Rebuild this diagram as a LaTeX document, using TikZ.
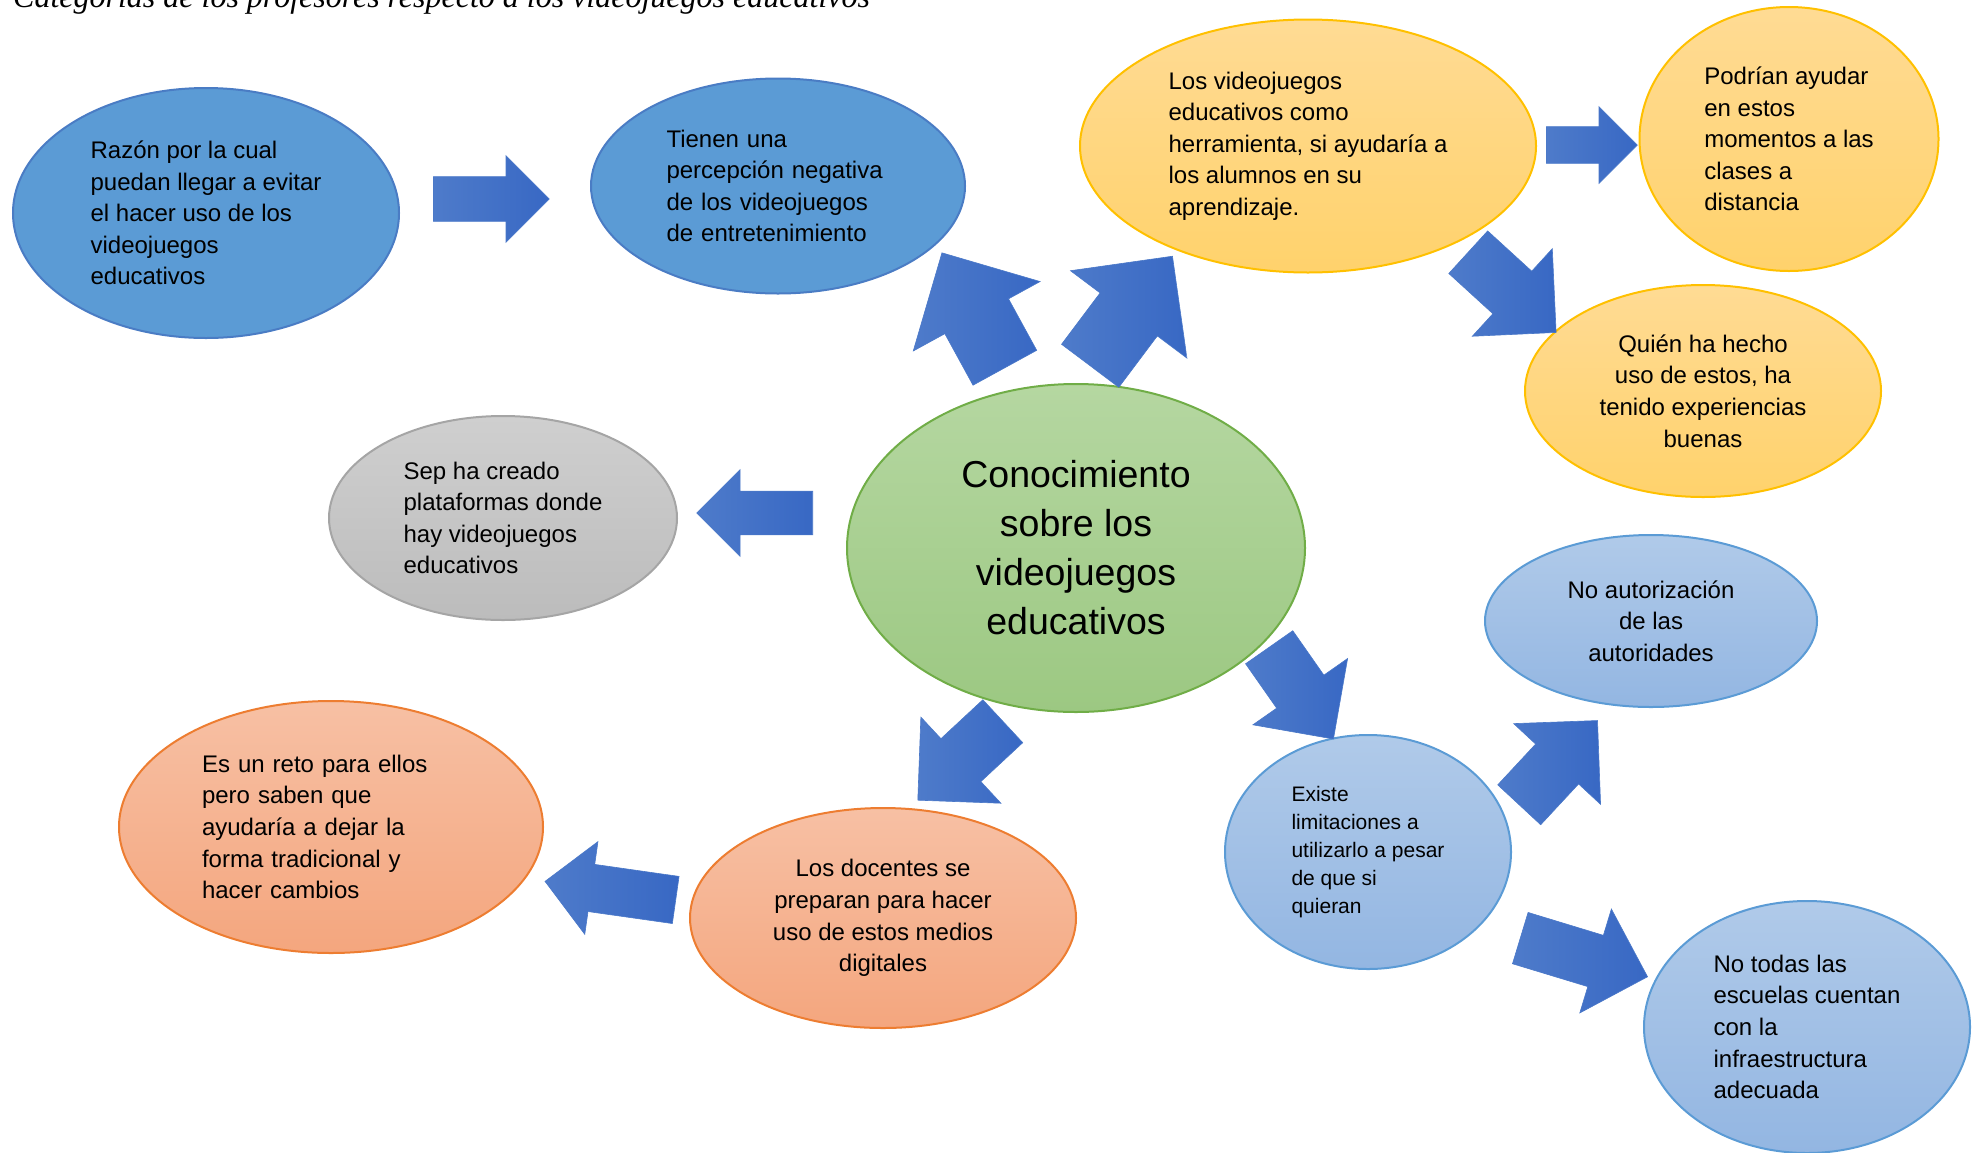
\documentclass[tikz,border=0pt]{standalone}
\usepackage{fontspec}
\setmainfont{Liberation Sans}
\newfontfamily\titulofont{Liberation Serif}
\usetikzlibrary{shapes.geometric,shapes.arrows}

\definecolor{azul}{HTML}{5B9BD5}
\definecolor{azulborde}{HTML}{4A7CC4}
\definecolor{amarillo1}{HTML}{FFDB94}
\definecolor{amarillo2}{HTML}{FFD26C}
\definecolor{amarilloborde}{HTML}{FFC000}
\definecolor{verde1}{HTML}{B5D7A1}
\definecolor{verde2}{HTML}{9CC882}
\definecolor{verdeborde}{HTML}{70AD47}
\definecolor{gris1}{HTML}{CFCFCF}
\definecolor{gris2}{HTML}{BCBCBC}
\definecolor{grisborde}{HTML}{A5A5A5}
\definecolor{celeste1}{HTML}{B0CAE9}
\definecolor{celeste2}{HTML}{93B6E2}
\definecolor{celesteborde}{HTML}{5B9BD5}
\definecolor{naranja1}{HTML}{F7C0A4}
\definecolor{naranja2}{HTML}{F4A67E}
\definecolor{naranjaborde}{HTML}{ED7D31}
\definecolor{flecha1}{HTML}{4E7BCA}
\definecolor{flecha2}{HTML}{3868C4}
\definecolor{flechaborde}{HTML}{4A78C8}

\begin{document}
\begin{tikzpicture}[x=1pt, y=-1pt,
        burbuja/.style={ellipse, draw, line width=2pt, inner sep=0pt, align=left,
            font=\fontsize{24}{31.6}\selectfont},
        tam/.style 2 args={minimum width=#1pt, minimum height=#2pt},
        azulfuerte/.style={burbuja, draw=azulborde, fill=azul},
        amarilla/.style={burbuja, draw=amarilloborde, top color=amarillo1, bottom color=amarillo2},
        verde/.style={burbuja, draw=verdeborde, top color=verde1, bottom color=verde2},
        gris/.style={burbuja, draw=grisborde, top color=gris1, bottom color=gris2},
        celeste/.style={burbuja, draw=celesteborde, top color=celeste1, bottom color=celeste2},
        naranja/.style={burbuja, draw=naranjaborde, top color=naranja1, bottom color=naranja2},
        flecha/.style n args={3}{single arrow, anchor=tail, draw=flechaborde, line width=0.6pt,
            left color=flecha1, right color=flecha2, inner xsep=0pt, inner ysep={0.5*#3pt},
            single arrow tip angle=90, single arrow head extend={0.5*(#2-#3)*1pt},
            minimum height=#1pt, minimum width=#2pt}]

    \useasboundingbox (0,0) rectangle (1980,1152);

    \node [anchor=base west, inner sep=0pt, font=\titulofont\itshape\fontsize{32}{38}\selectfont] (titulo) at (13,7)
        {Categorías de los profesores respecto a los videojuegos educativos};

    % burbujas
    \node [azulfuerte, tam={386}{250}] (razon) at (206,213)
        {Razón por la cual\\puedan llegar a evitar\\el hacer uso de los\\videojuegos\\educativos};
    \node [azulfuerte, tam={374}{215}, text width=223pt] (percepcion) at (778,186)
        {Tienen una\\percepción negativa\\de los videojuegos\\de entretenimiento};
    \node [amarilla, tam={456}{253}] (herramienta) at (1308,146)
        {Los videojuegos\\educativos como\\herramienta, si ayudaría a\\los alumnos en su\\aprendizaje.};
    \node [amarilla, tam={299}{264}] (distancia) at (1789,139)
        {Podrían ayudar\\en estos\\momentos a las\\clases a\\distancia};
    \node [amarilla, align=center, tam={356}{212}] (experiencias) at (1703,391)
        {Quién ha hecho\\uso de estos, ha\\tenido experiencias\\buenas};
    \node [verde, align=center, tam={458}{328}, font=\fontsize{37.5}{49}\selectfont] (conocimiento) at (1076,548)
        {Conocimiento\\sobre los\\videojuegos\\educativos};
    \node [gris, tam={348}{204}] (plataformas) at (503,518)
        {Sep ha creado\\plataformas donde\\hay videojuegos\\educativos};
    \node [celeste, align=center, tam={332}{172}] (autorizacion) at (1651,621)
        {No autorización\\de las\\autoridades};
    \node [celeste, tam={286}{234}, font=\fontsize{21}{28}\selectfont] (limitaciones) at (1368,852)
        {Existe\\limitaciones a\\utilizarlo a pesar\\de que si\\quieran};
    \node [celeste, tam={326}{252}] (infraestructura) at (1807,1027)
        {No todas las\\escuelas cuentan\\con la\\infraestructura\\adecuada};
    \node [naranja, tam={424}{252}, text width=258pt] (reto) at (331,827)
        {Es un reto para ellos\\pero saben que\\ayudaría a dejar la\\forma tradicional y\\hacer cambios};
    \node [naranja, align=center, tam={386}{220}] (docentes) at (883,918)
        {Los docentes se\\preparan para hacer\\uso de estos medios\\digitales};

    % flechas
    \node [flecha={116}{86}{44}] (f1) at (433,199) {};
    \node [flecha={131}{144}{72}, rotate=118.7] (f2) at (1005,368) {};
    \node [flecha={137}{145}{71}, rotate=53.1] (f3) at (1090,366) {};
    \node [flecha={91}{76}{36}] (f4) at (1546,145) {};
    \node [flecha={119}{118}{57}, rotate=-42.4] (f5) at (1468,252) {};
    \node [flecha={116}{86}{43}, rotate=180] (f6) at (813,513) {};
    \node [flecha={112}{115}{57}, rotate=-55] (f7) at (1269,647) {};
    \node [flecha={116}{117}{58}, rotate=-137.1] (f8) at (1003,721) {};
    \node [flecha={132}{93}{47}, rotate=171.9] (f9) at (676,900) {};
    \node [flecha={115}{118}{58}, rotate=47.1] (f10) at (1519,805) {};
    \node [flecha={133}{108}{53}, rotate=-16.9] (f11) at (1520,938) {};
\end{tikzpicture}
\end{document}
